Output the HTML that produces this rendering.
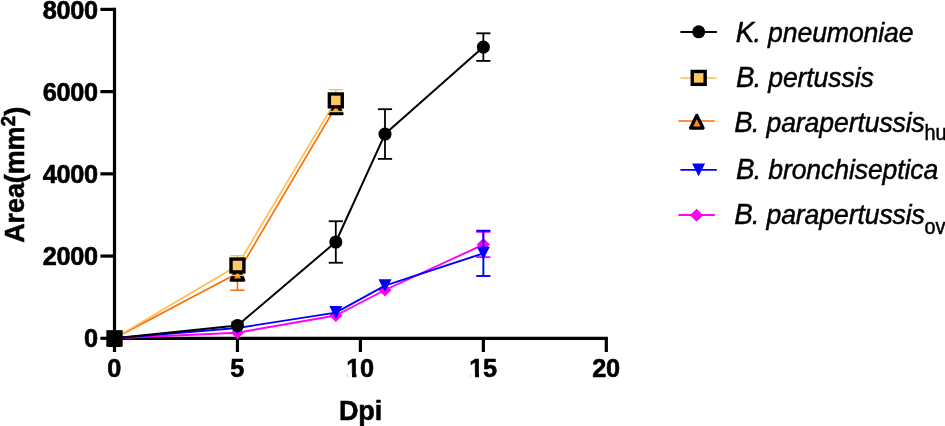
<!DOCTYPE html>
<html lang="en"><head><meta charset="utf-8"><title>Lesion area vs Dpi</title>
<style>html,body{margin:0;padding:0;background:#fff;overflow:hidden}svg{display:block;will-change:transform}text{font-family:"Liberation Sans",Arial,Helvetica,sans-serif;fill:#000}.tk{font-weight:bold;font-size:25.3px;stroke:#000;stroke-width:.6px;letter-spacing:-.3px}.ti{font-weight:bold;font-size:27px;stroke:#000;stroke-width:.55px;letter-spacing:-.1px}.lg{font-style:italic;font-size:26.6px;stroke:#000;stroke-width:.45px;letter-spacing:-.1px}.sb{font-style:normal;font-size:19.8px;letter-spacing:0}</style></head><body>
<svg width="945" height="426" viewBox="0 0 945 426">
<g stroke="#000" stroke-width="3.20" fill="none" stroke-linecap="butt">
<path d="M114.50 7.80 V339.90"/>
<path d="M112.90 338.30 H607.90"/>
<path d="M100.40 338.30 H114.50"/>
<path d="M100.40 256.07 H114.50"/>
<path d="M100.40 173.85 H114.50"/>
<path d="M100.40 91.62 H114.50"/>
<path d="M100.40 9.40 H114.50"/>
<path d="M114.50 338.30 V352.00"/>
<path d="M237.45 338.30 V352.00"/>
<path d="M360.40 338.30 V352.00"/>
<path d="M483.35 338.30 V352.00"/>
<path d="M606.30 338.30 V352.00"/>
</g>
<text class="tk" x="97.9" y="347.40" text-anchor="end">0</text>
<text class="tk" x="97.9" y="265.18" text-anchor="end">2000</text>
<text class="tk" x="97.9" y="182.95" text-anchor="end">4000</text>
<text class="tk" x="97.9" y="100.72" text-anchor="end">6000</text>
<text class="tk" x="97.9" y="18.50" text-anchor="end">8000</text>
<text class="tk" x="114.20" y="377" text-anchor="middle">0</text>
<text class="tk" x="237.15" y="377" text-anchor="middle">5</text>
<text class="tk" x="360.10" y="377" text-anchor="middle">10</text>
<text class="tk" x="483.05" y="377" text-anchor="middle">15</text>
<text class="tk" x="606.00" y="377" text-anchor="middle">20</text>
<rect x="347.35" y="373.4" width="4.65" height="4.8" fill="#fff"/>
<rect x="356.45" y="373.4" width="4.7" height="4.8" fill="#fff"/>
<rect x="470.30" y="373.4" width="4.65" height="4.8" fill="#fff"/>
<rect x="479.05" y="373.4" width="4.7" height="4.8" fill="#fff"/>
<text class="ti" x="360.5" y="419.5" text-anchor="middle">Dpi</text>
<text class="ti" transform="translate(24.4 174.9) rotate(-90)" text-anchor="middle">Area(mm<tspan font-size="19.3" dy="-9.4">2</tspan><tspan dy="9.4">)</tspan></text>
<polyline fill="none" stroke="#ff00f0" stroke-width="1.90" stroke-linejoin="round" points="114.50,338.30 237.45,332.70 335.81,315.50 384.99,290.00 483.35,244.60"/>
<g stroke="#ff00f0" stroke-width="1.80" fill="none"><path d="M483.35 231.90 V257.10" /><path d="M476.25 231.90 H490.45"/><path d="M476.25 257.10 H490.45"/></g>
<path fill="#ff00f0" d="M114.50 331.80 L121.10 338.30 L114.50 344.80 L107.90 338.30Z"/>
<path fill="#ff00f0" d="M237.45 326.20 L244.05 332.70 L237.45 339.20 L230.85 332.70Z"/>
<path fill="#ff00f0" d="M335.81 309.00 L342.41 315.50 L335.81 322.00 L329.21 315.50Z"/>
<path fill="#ff00f0" d="M384.99 283.50 L391.59 290.00 L384.99 296.50 L378.39 290.00Z"/>
<path fill="#ff00f0" d="M483.35 238.10 L489.95 244.60 L483.35 251.10 L476.75 244.60Z"/>
<polyline fill="none" stroke="#0000ff" stroke-width="1.90" stroke-linejoin="round" points="114.50,338.30 237.45,328.00 335.81,312.60 384.99,285.70 483.35,253.30"/>
<g stroke="#0000ff" stroke-width="1.90" fill="none"><path d="M483.35 230.70 V276.00" /><path d="M476.25 230.70 H490.45"/><path d="M476.25 276.00 H490.45"/></g>
<path fill="#0000ff" d="M108.00 331.80 L121.00 331.80 L114.50 344.70Z"/>
<path fill="#0000ff" d="M230.95 321.50 L243.95 321.50 L237.45 334.40Z"/>
<path fill="#0000ff" d="M329.31 306.10 L342.31 306.10 L335.81 319.00Z"/>
<path fill="#0000ff" d="M378.49 279.20 L391.49 279.20 L384.99 292.10Z"/>
<path fill="#0000ff" d="M476.85 246.80 L489.85 246.80 L483.35 259.70Z"/>
<polyline fill="none" stroke="#ff6a00" stroke-width="1.65" stroke-linejoin="round" points="114.50,338.30 237.45,273.20 335.81,106.70"/>
<g stroke="#ff6a00" stroke-width="1.50" fill="none"><path d="M237.45 273.20 V290.20" /><path d="M230.35 290.20 H244.55"/></g>
<path fill="#fb8c0c" stroke="#000" stroke-width="3.3" stroke-linejoin="round" d="M114.50 332.65 L120.75 345.25 L108.25 345.25Z"/>
<path fill="#fb8c0c" stroke="#000" stroke-width="3.3" stroke-linejoin="round" d="M237.45 267.55 L243.70 280.15 L231.20 280.15Z"/>
<path fill="#fb8c0c" stroke="#000" stroke-width="3.3" stroke-linejoin="round" d="M335.81 101.05 L342.06 113.65 L329.56 113.65Z"/>
<polyline fill="none" stroke="#fdbf4e" stroke-width="1.65" stroke-linejoin="round" points="114.50,338.30 237.45,265.50 335.81,100.40"/>
<g stroke="#fdbf4e" stroke-width="1.40" fill="none"><path d="M237.45 255.70 V275.40" /><path d="M230.35 255.70 H244.55"/><path d="M230.35 275.40 H244.55"/></g>
<g stroke="#fdbf4e" stroke-width="1.40" fill="none"><path d="M335.81 89.70 V111.50" /><path d="M328.71 89.70 H342.91"/><path d="M328.71 111.50 H342.91"/></g>
<rect x="108.05" y="331.85" width="12.9" height="12.9" fill="#fbc862" stroke="#000" stroke-width="3.4"/>
<rect x="231.00" y="259.05" width="12.9" height="12.9" fill="#fbc862" stroke="#000" stroke-width="3.4"/>
<rect x="329.36" y="93.95" width="12.9" height="12.9" fill="#fbc862" stroke="#000" stroke-width="3.4"/>
<polyline fill="none" stroke="#000" stroke-width="2.00" stroke-linejoin="round" points="114.50,338.30 237.45,325.50 335.81,242.00 384.99,134.05 483.35,47.10"/>
<g stroke="#000" stroke-width="1.80" fill="none"><path d="M335.81 221.25 V262.75" /><path d="M328.71 221.25 H342.91"/><path d="M328.71 262.75 H342.91"/></g>
<g stroke="#000" stroke-width="1.80" fill="none"><path d="M384.99 109.20 V158.90" /><path d="M377.89 109.20 H392.09"/><path d="M377.89 158.90 H392.09"/></g>
<g stroke="#000" stroke-width="1.80" fill="none"><path d="M483.35 33.30 V60.90" /><path d="M476.25 33.30 H490.45"/><path d="M476.25 60.90 H490.45"/></g>
<circle cx="114.50" cy="338.30" r="6.55" fill="#000"/>
<circle cx="237.45" cy="325.50" r="6.55" fill="#000"/>
<circle cx="335.81" cy="242.00" r="6.55" fill="#000"/>
<circle cx="384.99" cy="134.05" r="6.55" fill="#000"/>
<circle cx="483.35" cy="47.10" r="6.55" fill="#000"/>
<path d="M680.40 31.90 H716.90" stroke="#000" stroke-width="2.00"/>
<circle cx="698.70" cy="31.80" r="6.55" fill="#000"/>
<path d="M680.40 77.90 H716.80" stroke="#fdbf4e" stroke-width="1.50"/>
<rect x="692.25" y="71.45" width="12.9" height="12.9" fill="#fbc862" stroke="#000" stroke-width="3.4"/>
<path d="M678.40 121.00 H714.80" stroke="#ff6a00" stroke-width="1.50"/>
<path fill="#fb8c0c" stroke="#000" stroke-width="3.3" stroke-linejoin="round" d="M696.80 115.45 L703.05 128.05 L690.55 128.05Z"/>
<path d="M680.40 169.90 H716.80" stroke="#0000ff" stroke-width="1.90"/>
<path fill="#0000ff" d="M692.10 163.40 L705.10 163.40 L698.60 176.30Z"/>
<path d="M678.40 215.00 H714.80" stroke="#ff00f0" stroke-width="1.90"/>
<path fill="#ff00f0" d="M696.60 208.65 L703.20 215.15 L696.60 221.65 L690.00 215.15Z"/>
<text class="lg" transform="translate(735.80 41.70) scale(1 1.070)"><tspan font-size="27.8">K</tspan><tspan dx="-0.7">. pneumoniae</tspan></text>
<text class="lg" transform="translate(735.90 86.90) scale(1 1.070)"><tspan font-size="27.8">B</tspan><tspan dx="-0.7">. pertussis</tspan></text>
<text class="lg" transform="translate(734.20 131.60) scale(1 1.070)"><tspan font-size="27.8">B</tspan><tspan dx="-0.7">. parapertussis</tspan><tspan class="sb" dx="-0.4" dy="7.66">hu</tspan></text>
<text class="lg" transform="translate(735.90 179.20) scale(1 1.070)"><tspan font-size="27.8">B</tspan><tspan dx="-0.7">. bronchiseptica</tspan></text>
<text class="lg" transform="translate(734.20 224.30) scale(1 1.070)"><tspan font-size="27.8">B</tspan><tspan dx="-0.7">. parapertussis</tspan><tspan class="sb" dx="-0.4" dy="9.16">ov</tspan></text>
</svg></body></html>
